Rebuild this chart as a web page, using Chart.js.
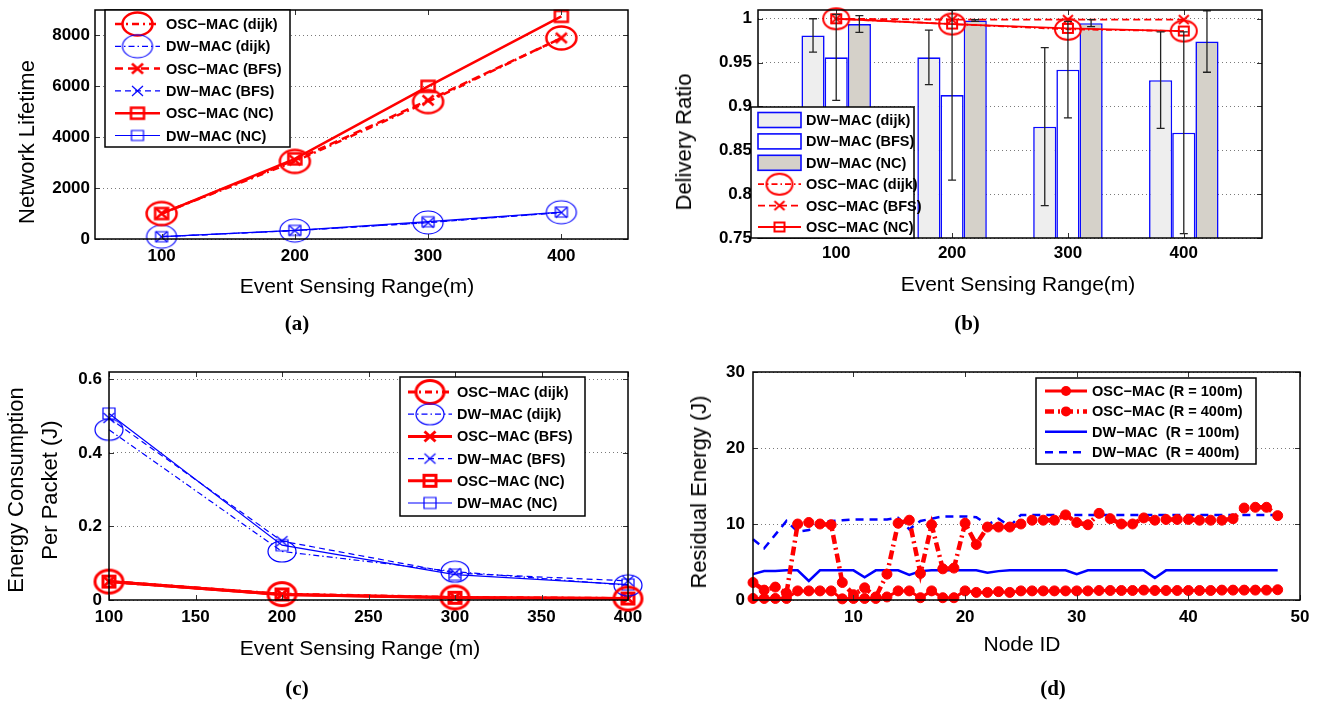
<!DOCTYPE html>
<html>
<head>
<meta charset="utf-8">
<script src="https://cdn.jsdelivr.net/npm/chart.js"></script>
<style>
  body { margin: 0; background: #fff; width: 1317px; height: 703px; position: relative; overflow: hidden;
         font-family: "Liberation Sans", Arial, Helvetica, sans-serif; }
  .panel { position: absolute; }
  .panel canvas { display: block; }
  .lbl { position: absolute; white-space: nowrap; font-size: 21px; line-height: 1; color: #000;
         transform: translate(-50%, -50%); }
  .lbl.v { font-size: 22px; transform: translate(-50%, -50%) rotate(-90deg); }
  .cap { position: absolute; font-family: "Liberation Serif", "Times New Roman", serif; font-weight: bold;
         font-size: 21px; line-height: 1; transform: translate(-50%, -50%); }
</style>
</head>
<body>
<div class="panel" style="left:0;top:0"><canvas id="chartA" width="650" height="300"></canvas></div>
<div class="panel" style="left:660px;top:0"><canvas id="chartB" width="640" height="300"></canvas></div>
<div class="panel" style="left:0;top:360px"><canvas id="chartC" width="650" height="300"></canvas></div>
<div class="panel" style="left:660px;top:360px"><canvas id="chartD" width="657" height="300"></canvas></div>

<div class="lbl v" style="left:27px;top:142px">Network Lifetime</div>
<div class="lbl" style="left:357px;top:285px">Event Sensing Range(m)</div>
<div class="cap" style="left:297px;top:323px">(a)</div>

<div class="lbl v" style="left:684px;top:142px">Delivery Ratio</div>
<div class="lbl" style="left:1018px;top:283px">Event Sensing Range(m)</div>
<div class="cap" style="left:967px;top:323px">(b)</div>

<div class="lbl v" style="left:16px;top:490px">Energy Consumption</div>
<div class="lbl v" style="left:50px;top:490px">Per Packet (J)</div>
<div class="lbl" style="left:360px;top:647px">Event Sensing Range (m)</div>
<div class="cap" style="left:297px;top:688px">(c)</div>

<div class="lbl v" style="left:699px;top:492px">Residual Energy (J)</div>
<div class="lbl" style="left:1022px;top:643px">Node ID</div>
<div class="cap" style="left:1053px;top:688px">(d)</div>

<script>
// ---------- data ----------
const ranges = [100, 200, 300, 400];

// (a) network lifetime
const lifeTicksY = [0, 2000, 4000, 6000, 8000];
const lifeOscDijk = [1000, 3050, 5400, 7900];
const lifeDwDijk = [90, 330, 650, 1050];
const lifeOscBfs = [1000, 3100, 5450, 7900];
const lifeDwBfs = [90, 330, 640, 1040];
const lifeOscNc = [1000, 3150, 6000, 8750];
const lifeDwNc = [90, 340, 680, 1060];

// (b) delivery ratio (bars with error bars + lines)
const ratioTicksY = [0.75, 0.8, 0.85, 0.9, 0.95, 1];
const ratioDwDijk = [0.981, 0.956, 0.877, 0.930];
const errDwDijk = [0.019, 0.031, 0.090, 0.055];
const ratioDwBfs = [0.956, 0.913, 0.942, 0.870];
const errDwBfs = [0.049, 0.097, 0.055, 0.115];
const ratioDwNc = [0.994, 0.998, 0.995, 0.974];
const errDwNc = [0.0095, 0.001, 0.004, 0.035];
const ratioOscDijk = [1.0, 0.994, 0.988, 0.986];
const ratioOscBfs = [1.0, 0.999, 0.999, 0.999];
const ratioOscNc = [1.0, 0.994, 0.989, 0.986];

// (c) energy per packet
const energyTicksX = [100, 150, 200, 250, 300, 350, 400];
const energyTicksY = [0, 0.2, 0.4, 0.6];
const energyOscDijk = [0.05, 0.016, 0.007, 0.004];
const energyDwDijk = [0.463, 0.132, 0.077, 0.04];
const energyOscBfs = [0.05, 0.015, 0.007, 0.004];
const energyDwBfs = [0.495, 0.16, 0.073, 0.052];
const energyOscNc = [0.05, 0.015, 0.006, 0.004];
const energyDwNc = [0.507, 0.149, 0.069, 0.042];

// (d) residual energy per node
const nodeIds = [1, 2, 3, 4, 5, 6, 7, 8, 9, 10, 11, 12, 13, 14, 15, 16, 17, 18, 19, 20, 21, 22, 23, 24,
                 25, 26, 27, 28, 29, 30, 31, 32, 33, 34, 35, 36, 37, 38, 39, 40, 41, 42, 43, 44, 45, 46, 47, 48];
const nodeTicksX = [10, 20, 30, 40, 50];
const residualTicksY = [0, 10, 20, 30];
const oscR100 = [0.2, 0.2, 0.2, 0.2, 1.2, 1.2, 1.2, 1.2, 0.15, 0.2, 0.2, 0.2, 0.4, 1.2, 1.2, 0.3,
                 1.2, 0.3, 0.3, 1.2, 1.0, 1.0, 1.1, 1.0, 1.2, 1.2, 1.2, 1.2, 1.2, 1.2, 1.2, 1.25,
                 1.25, 1.25, 1.25, 1.3, 1.25, 1.25, 1.25, 1.25, 1.25, 1.25, 1.3, 1.3, 1.3, 1.3, 1.3, 1.35];
const oscR400 = [2.3, 1.3, 1.7, 0.9, 10.0, 10.2, 10.0, 9.9, 2.3, 0.7, 1.6, 0.4, 3.4, 10.1, 10.5, 3.5,
                 9.9, 4.1, 4.2, 10.1, 7.3, 9.6, 9.6, 9.6, 10.0, 10.5, 10.5, 10.5, 11.2, 10.2, 9.9, 11.4,
                 10.7, 10.0, 10.0, 10.8, 10.5, 10.6, 10.6, 10.6, 10.5, 10.5, 10.5, 10.7, 12.1, 12.2, 12.2, 11.1];
const dwR100 = [3.4, 3.8, 3.8, 3.9, 3.9, 2.5, 3.9, 3.9, 3.9, 3.9, 3.0, 3.9, 3.9, 3.9, 3.3, 3.8,
                3.9, 3.9, 3.9, 3.9, 3.9, 3.6, 3.8, 3.9, 3.9, 3.9, 3.9, 3.9, 3.9, 3.4, 3.9, 3.9,
                3.9, 3.9, 3.9, 3.9, 2.9, 3.9, 3.9, 3.9, 3.9, 3.9, 3.9, 3.9, 3.9, 3.9, 3.9, 3.9];
const dwR400 = [8.0, 6.8, 8.6, 10.4, 9.0, 9.2, 10.3, 10.4, 10.5, 10.6, 10.6, 10.6, 10.6, 10.8, 9.3, 10.4,
                10.7, 11.0, 11.0, 11.0, 10.9, 9.9, 10.7, 9.7, 11.2, 11.2, 11.2, 11.2, 11.2, 11.2, 11.2, 11.2,
                11.2, 11.2, 11.2, 11.2, 11.2, 11.2, 11.2, 11.2, 11.2, 11.2, 11.2, 11.2, 11.2, 11.2, 11.2, 11.2];

// ---------- styling helpers ----------
const FONT = '"Liberation Sans", Arial, Helvetica, sans-serif';
const RED = '#ff0000';
const BLUE = '#0000ff';
const DASH_DOT = [7, 4, 2, 4];
const DASHED = [8, 5];

function markerCanvas(kind, w, h, color, lw) {
  const c = document.createElement('canvas');
  c.width = Math.ceil(w + lw + 2);
  c.height = Math.ceil(h + lw + 2);
  const g = c.getContext('2d');
  const cx = c.width / 2, cy = c.height / 2;
  g.strokeStyle = color;
  g.lineWidth = lw;
  g.beginPath();
  if (kind === 'o') {
    g.ellipse(cx, cy, w / 2, h / 2, 0, 0, Math.PI * 2);
  } else if (kind === 's') {
    g.rect(cx - w / 2, cy - h / 2, w, h);
  } else {
    g.moveTo(cx - w / 2, cy - h / 2); g.lineTo(cx + w / 2, cy + h / 2);
    g.moveTo(cx + w / 2, cy - h / 2); g.lineTo(cx - w / 2, cy + h / 2);
  }
  g.stroke();
  return c;
}

function xy(xs, ys) {
  return xs.map((x, i) => ({ x: x, y: ys[i] }));
}

function lineSet(label, xs, ys, color, width, dash, marker) {
  return {
    type: 'line', label: label, data: xy(xs, ys),
    borderColor: color, borderWidth: width, borderDash: dash,
    pointStyle: marker || false, pointRadius: marker ? 6 : 0, pointBorderWidth: 0,
    pointBackgroundColor: color, pointBorderColor: color,
    fill: false, clip: false, order: 0
  };
}

function axes(o) {
  const tickFont = { family: FONT, size: 17, weight: 'bold' };
  return {
    x: {
      type: 'linear', min: o.xMin, max: o.xMax, offset: false,
      afterBuildTicks: s => { s.ticks = o.xTicks.map(v => ({ value: v })); },
      afterFit: s => { s.height = o.xH; s.paddingLeft = 0; s.paddingRight = 0; },
      grid: { display: false, drawTicks: false },
      border: { display: false },
      ticks: { font: tickFont, color: '#000', padding: o.xPad, maxRotation: 0, autoSkip: false,
               callback: v => String(v) }
    },
    y: {
      type: 'linear', min: o.yMin, max: o.yMax,
      afterBuildTicks: s => { s.ticks = o.yTicks.map(v => ({ value: v })); },
      afterFit: s => { s.width = o.yW; s.paddingTop = 0; s.paddingBottom = 0; },
      grid: { color: '#7a7a7a', lineWidth: 1, drawTicks: false },
      border: { display: false, dash: [1, 3] },
      ticks: { font: tickFont, color: '#000', padding: o.yPad, autoSkip: false,
               callback: v => String(v) }
    }
  };
}

// axes box with small inward ticks, like the original figure
const framePlugin = {
  id: 'frame',
  afterDatasetsDraw(chart) {
    const { ctx, chartArea: a, scales: { x, y } } = chart;
    ctx.save();
    ctx.setLineDash([]);
    ctx.strokeStyle = '#333';
    ctx.lineWidth = 1;
    ctx.beginPath();
    x.ticks.forEach(t => {
      const px = Math.round(x.getPixelForValue(t.value)) + 0.5;
      ctx.moveTo(px, a.bottom); ctx.lineTo(px, a.bottom - 5);
      ctx.moveTo(px, a.top); ctx.lineTo(px, a.top + 5);
    });
    y.ticks.forEach(t => {
      const py = Math.round(y.getPixelForValue(t.value)) + 0.5;
      ctx.moveTo(a.left, py); ctx.lineTo(a.left + 5, py);
      ctx.moveTo(a.right, py); ctx.lineTo(a.right - 5, py);
    });
    ctx.stroke();
    ctx.strokeStyle = '#000';
    ctx.lineWidth = 1.5;
    ctx.strokeRect(a.left, a.top, a.right - a.left, a.bottom - a.top);
    ctx.restore();
  }
};

const errorBarPlugin = {
  id: 'errorBars',
  afterDatasetsDraw(chart) {
    const { ctx, chartArea: a, scales: { y } } = chart;
    ctx.save();
    ctx.beginPath();
    ctx.rect(a.left, a.top, a.right - a.left, a.bottom - a.top);
    ctx.clip();
    ctx.setLineDash([]);
    ctx.strokeStyle = '#222';
    ctx.lineWidth = 1.3;
    chart.data.datasets.forEach((ds, i) => {
      if (!ds.errorBars) return;
      chart.getDatasetMeta(i).data.forEach((bar, j) => {
        const v = ds.data[j].y, e = ds.errorBars[j];
        const y0 = y.getPixelForValue(v - e), y1 = y.getPixelForValue(v + e);
        ctx.beginPath();
        ctx.moveTo(bar.x, y0); ctx.lineTo(bar.x, y1);
        ctx.moveTo(bar.x - 4, y0); ctx.lineTo(bar.x + 4, y0);
        ctx.moveTo(bar.x - 4, y1); ctx.lineTo(bar.x + 4, y1);
        ctx.stroke();
      });
    });
    ctx.restore();
  }
};

// legend box drawn inside the plot, reading each dataset's own style
const boxLegendPlugin = {
  id: 'boxLegend',
  afterDraw(chart, args, o) {
    const ctx = chart.ctx;
    ctx.save();
    ctx.setLineDash([]);
    ctx.fillStyle = '#fff';
    ctx.fillRect(o.x, o.y, o.w, o.h);
    ctx.strokeStyle = '#000';
    ctx.lineWidth = 1.5;
    ctx.strokeRect(o.x, o.y, o.w, o.h);
    ctx.font = 'bold 14.5px ' + FONT;
    ctx.textBaseline = 'middle';
    chart.data.datasets.forEach((ds, i) => {
      const cy = o.row0 + i * o.rowGap;
      const cx = (o.sym0 + o.sym1) / 2;
      if (ds.type === 'bar') {
        ctx.fillStyle = ds.backgroundColor;
        ctx.fillRect(o.sym0, cy - 7.5, o.sym1 - o.sym0, 15);
        ctx.strokeStyle = ds.borderColor;
        ctx.lineWidth = ds.borderWidth;
        ctx.strokeRect(o.sym0, cy - 7.5, o.sym1 - o.sym0, 15);
      } else {
        ctx.strokeStyle = ds.borderColor;
        ctx.lineWidth = ds.borderWidth;
        ctx.setLineDash(ds.borderDash || []);
        ctx.beginPath();
        ctx.moveTo(o.sym0, cy); ctx.lineTo(o.sym1, cy);
        ctx.stroke();
        ctx.setLineDash([]);
        const ps = ds.pointStyle;
        if (ps instanceof HTMLCanvasElement) {
          ctx.drawImage(ps, cx - ps.width / 2, cy - ps.height / 2);
        } else if (ps === 'circle' && ds.pointRadius > 0) {
          ctx.fillStyle = ds.pointBackgroundColor;
          ctx.beginPath();
          ctx.arc(cx, cy, ds.pointRadius, 0, Math.PI * 2);
          ctx.fill();
        }
      }
      ctx.fillStyle = '#000';
      ctx.fillText(ds.label, o.textX, cy + 1);
    });
    ctx.restore();
  }
};

function baseOptions(pad, scales, legend) {
  return {
    responsive: false, animation: false, events: [],
    layout: { padding: pad, autoPadding: false },
    scales: scales,
    plugins: { legend: { display: false }, tooltip: { enabled: false }, boxLegend: legend }
  };
}

// ---------- (a) network lifetime ----------
new Chart(document.getElementById('chartA'), {
  type: 'line',
  data: {
    datasets: [
      lineSet('OSC\u2212MAC (dijk)', ranges, lifeOscDijk, RED, 2.5, DASH_DOT, markerCanvas('o', 30, 23, RED, 2.5)),
      lineSet('DW\u2212MAC (dijk)', ranges, lifeDwDijk, BLUE, 1.2, [6, 3, 1.5, 3], markerCanvas('o', 30, 23, BLUE, 1.2)),
      lineSet('OSC\u2212MAC (BFS)', ranges, lifeOscBfs, RED, 2.5, DASHED, markerCanvas('x', 11, 10, RED, 2.5)),
      lineSet('DW\u2212MAC (BFS)', ranges, lifeDwBfs, BLUE, 1.2, [6, 4], markerCanvas('x', 11, 10, BLUE, 1.2)),
      lineSet('OSC\u2212MAC (NC)', ranges, lifeOscNc, RED, 2.5, [], markerCanvas('s', 13, 11, RED, 2.5)),
      lineSet('DW\u2212MAC (NC)', ranges, lifeDwNc, BLUE, 1.2, [], markerCanvas('s', 12, 10, BLUE, 1.2))
    ]
  },
  options: baseOptions({ left: 0, top: 10, right: 22, bottom: 0 },
    axes({ xMin: 50, xMax: 450, xTicks: ranges, xH: 61, xPad: 7,
           yMin: 0, yMax: 9000, yTicks: lifeTicksY, yW: 95, yPad: 5 }),
    { x: 105, y: 10, w: 185, h: 137, row0: 24, rowGap: 22.3, sym0: 115, sym1: 160, textX: 166 }),
  plugins: [framePlugin, boxLegendPlugin]
});

// ---------- (b) delivery ratio ----------
function barSet(label, ys, errs, fill) {
  return {
    type: 'bar', label: label, data: xy(ranges, ys), errorBars: errs,
    backgroundColor: fill, borderColor: '#0a0aff', borderWidth: 1.6, borderSkipped: false,
    categoryPercentage: 0.6, barPercentage: 1.0, order: 1
  };
}

new Chart(document.getElementById('chartB'), {
  type: 'line',
  data: {
    datasets: [
      barSet('DW\u2212MAC (dijk)', ratioDwDijk, errDwDijk, '#eeeeee'),
      barSet('DW\u2212MAC (BFS)', ratioDwBfs, errDwBfs, '#ffffff'),
      barSet('DW\u2212MAC (NC)', ratioDwNc, errDwNc, '#d5d1c9'),
      lineSet('OSC\u2212MAC (dijk)', ranges, ratioOscDijk, RED, 1.8, [6, 3, 1.5, 3], markerCanvas('o', 26, 21, RED, 2)),
      lineSet('OSC\u2212MAC (BFS)', ranges, ratioOscBfs, RED, 1.8, [7, 4], markerCanvas('x', 10, 9, RED, 2)),
      lineSet('OSC\u2212MAC (NC)', ranges, ratioOscNc, RED, 1.8, [], markerCanvas('s', 10, 9, RED, 2))
    ]
  },
  options: baseOptions({ left: 0, top: 10, right: 38, bottom: 0 },
    axes({ xMin: 32.5, xMax: 467.5, xTicks: ranges, xH: 62, xPad: 5,
           yMin: 0.75, yMax: 1.01, yTicks: ratioTicksY, yW: 98, yPad: 6 }),
    { x: 91, y: 107, w: 163, h: 131, row0: 120, rowGap: 21.4, sym0: 98, sym1: 141, textX: 146 }),
  plugins: [errorBarPlugin, framePlugin, boxLegendPlugin]
});

// ---------- (c) energy per packet ----------
new Chart(document.getElementById('chartC'), {
  type: 'line',
  data: {
    datasets: [
      lineSet('OSC\u2212MAC (dijk)', ranges, energyOscDijk, RED, 3, DASH_DOT, markerCanvas('o', 28, 23, RED, 3)),
      lineSet('DW\u2212MAC (dijk)', ranges, energyDwDijk, BLUE, 1.2, [6, 3, 1.5, 3], markerCanvas('o', 28, 21, BLUE, 1.2)),
      lineSet('OSC\u2212MAC (BFS)', ranges, energyOscBfs, RED, 3, [], markerCanvas('x', 11, 10, RED, 3)),
      lineSet('DW\u2212MAC (BFS)', ranges, energyDwBfs, BLUE, 1.2, [6, 4], markerCanvas('x', 11, 10, BLUE, 1.2)),
      lineSet('OSC\u2212MAC (NC)', ranges, energyOscNc, RED, 3, [], markerCanvas('s', 12, 11, RED, 3)),
      lineSet('DW\u2212MAC (NC)', ranges, energyDwNc, BLUE, 1.2, [], markerCanvas('s', 12, 11, BLUE, 1.2))
    ]
  },
  options: baseOptions({ left: 0, top: 12, right: 22, bottom: 0 },
    axes({ xMin: 100, xMax: 400, xTicks: energyTicksX, xH: 60, xPad: 7,
           yMin: 0, yMax: 0.62, yTicks: energyTicksY, yW: 109, yPad: 7 }),
    { x: 400, y: 17, w: 185, h: 139, row0: 32, rowGap: 22.2, sym0: 408, sym1: 452, textX: 457 }),
  plugins: [framePlugin, boxLegendPlugin]
});

// ---------- (d) residual energy ----------
function nodeSet(label, ys, color, width, dash, dots) {
  return {
    type: 'line', label: label, data: xy(nodeIds, ys),
    borderColor: color, borderWidth: width, borderDash: dash,
    pointStyle: dots ? 'circle' : false, pointRadius: dots ? 5 : 0, pointBorderWidth: 1,
    pointBackgroundColor: color, pointBorderColor: color, fill: false, clip: false
  };
}

new Chart(document.getElementById('chartD'), {
  type: 'line',
  data: {
    datasets: [
      nodeSet('OSC\u2212MAC (R = 100m)', oscR100, RED, 3, [], true),
      nodeSet('OSC\u2212MAC (R = 400m)', oscR400, RED, 4.5, [9, 4, 2, 4], true),
      nodeSet('DW\u2212MAC  (R = 100m)', dwR100, BLUE, 2.5, [], false),
      nodeSet('DW\u2212MAC  (R = 400m)', dwR400, BLUE, 2.5, [8, 6], false)
    ]
  },
  options: baseOptions({ left: 0, top: 12, right: 17, bottom: 0 },
    axes({ xMin: 1, xMax: 50, xTicks: nodeTicksX, xH: 60, xPad: 7,
           yMin: 0, yMax: 30, yTicks: residualTicksY, yW: 93, yPad: 8 }),
    { x: 376, y: 18, w: 220, h: 86, row0: 31, rowGap: 20.4, sym0: 385, sym1: 427, textX: 432 }),
  plugins: [framePlugin, boxLegendPlugin]
});
</script>
</body>
</html>
